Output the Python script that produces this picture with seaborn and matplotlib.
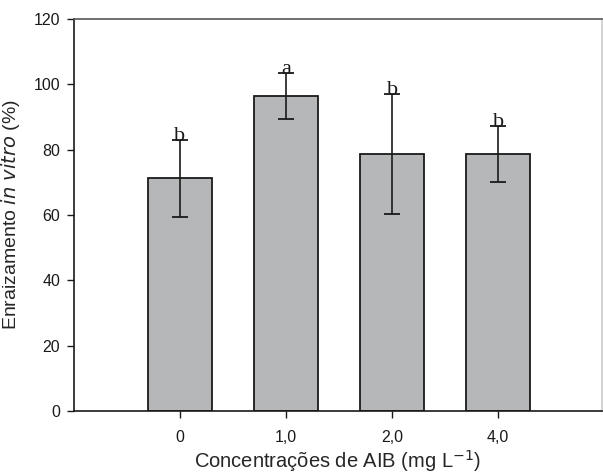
import numpy as np
import pandas as pd
import matplotlib
matplotlib.use("Agg")
import matplotlib.pyplot as plt
import seaborn as sns

# values
conc = ["0", "1,0", "2,0", "4,0"]
rooting = [71.2, 96.4, 78.6, 78.6]
err = [11.8, 7.0, 18.4, 8.5]
letters = ["b", "a", "b", "b"]

df = pd.DataFrame({"conc": conc, "rooting": rooting})

sns.set_style("white")
plt.rcParams["font.family"] = ["Liberation Sans", "DejaVu Sans"]

fig = plt.figure(figsize=(6.03, 4.73), dpi=100)
ax = fig.add_axes([74 / 603, 62 / 473, 528 / 603, 392 / 473])

sns.barplot(data=df, x="conc", y="rooting", color="#b5b7b8", saturation=1,
            edgecolor="#1a1a1a", linewidth=1.3, width=0.6, errorbar=None, ax=ax)

pos = np.arange(len(conc))
ax.errorbar(pos, rooting, yerr=err, fmt="none", ecolor="#1a1a1a",
            elinewidth=1.2, capsize=6, capthick=1.3)

for x, y, e, l in zip(pos, rooting, err, letters):
    ax.text(x, y + e - 0.2, l, ha="center", va="baseline", fontsize=16,
            family="Liberation Serif", color="#1a1a1a")

ax.set_xlim(-1, 3.98)
ax.set_ylim(0, 120)
ax.set_yticks([0, 20, 40, 60, 80, 100, 120])
ax.tick_params(axis="both", direction="out", length=5, width=1, labelsize=11.5,
               colors="#1a1a1a", left=True, bottom=True)
ax.tick_params(axis="x", pad=9)
ax.tick_params(axis="y", pad=5)

ax.spines["left"].set_color("#1a1a1a")
ax.spines["bottom"].set_color("#1a1a1a")
ax.spines["top"].set_color("#555555")
ax.spines["right"].set_color("#cccccc")
for s in ax.spines.values():
    s.set_linewidth(1.2)

ax.set_xlabel("Concentrações de AIB (mg L$^{-1}$)", fontsize=14.5, labelpad=2)
ax.set_ylabel("Enraizamento $\\it{in\\ vitro}$ (%)", fontsize=14, labelpad=8)

fig.savefig("out.png", dpi=100)
